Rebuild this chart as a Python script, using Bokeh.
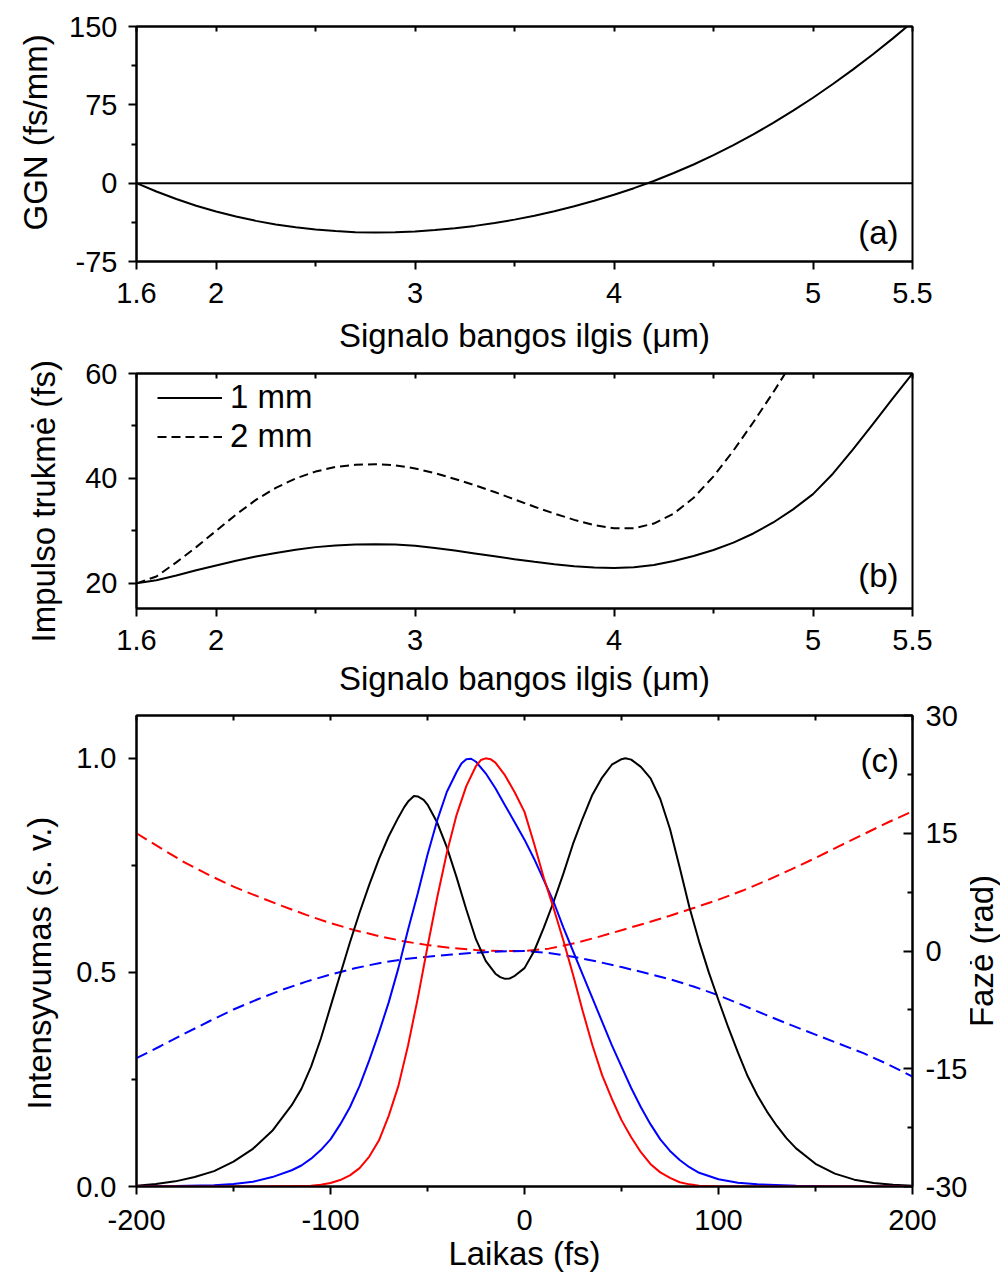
from bokeh.plotting import figure
from bokeh.models import (Range1d, LinearAxis, FixedTicker, NumeralTickFormatter, Span, Label,
                          Title, CustomJSTickFormatter)
from bokeh.layouts import column, row
from bokeh.embed import file_html
from bokeh.resources import INLINE

FONT = "Liberation Sans"
TICK_FS = "29px"
TITLE_FS = "33px"

# ---------------- (a) group-velocity mismatch ----------------
wavelength_a = [1.6, 1.7, 1.8, 1.9, 2.0, 2.1, 2.2, 2.3, 2.4, 2.5, 2.6, 2.7, 2.8, 2.9,
                3.0, 3.1, 3.2, 3.3, 3.4, 3.5, 3.6, 3.7, 3.8, 3.9, 4.0, 4.1, 4.2, 4.3,
                4.4, 4.5, 4.6, 4.7, 4.8, 4.9, 5.0, 5.1, 5.2, 5.3, 5.4, 5.5]
ggn = [0, -8.0, -15.2, -21.6, -27.2, -32.0, -36.1, -39.5, -42.2, -44.3, -45.9, -46.9,
       -47.2, -47.0, -46.2, -44.9, -43.2, -40.9, -38.2, -34.9, -31.1, -26.9, -22.1,
       -16.8, -11.1, -4.8, 2.1, 9.7, 17.9, 26.8, 36.4, 46.7, 57.7, 69.4, 81.8, 94.9,
       108.7, 123.2, 138.4, 154.3]

# ---------------- (b) pulse duration ----------------
wavelength_b1 = [1.6, 1.7, 1.8, 1.9, 2.0, 2.1, 2.2, 2.3, 2.4, 2.5, 2.6, 2.7, 2.8, 2.9,
                 3.0, 3.1, 3.2, 3.3, 3.4, 3.5, 3.6, 3.7, 3.8, 3.9, 4.0, 4.1, 4.2, 4.3,
                 4.4, 4.5, 4.6, 4.7, 4.8, 4.9, 5.0, 5.1, 5.2, 5.3, 5.4, 5.5]
duration_1mm = [20.0, 20.6, 21.5, 22.5, 23.4, 24.3, 25.1, 25.8, 26.4, 26.9, 27.2, 27.4,
                27.45, 27.4, 27.15, 26.75, 26.25, 25.7, 25.15, 24.6, 24.1, 23.65, 23.25,
                23.0, 22.9, 23.05, 23.5, 24.25, 25.2, 26.35, 27.75, 29.5, 31.6, 34.1,
                37.0, 40.9, 45.5, 50.3, 55.2, 60.0]
wavelength_b2 = [1.6, 1.7, 1.8, 1.9, 2.0, 2.1, 2.2, 2.3, 2.4, 2.5, 2.6, 2.7, 2.8, 2.9,
                 3.0, 3.1, 3.2, 3.3, 3.4, 3.5, 3.6, 3.7, 3.8, 3.9, 4.0, 4.1, 4.2, 4.3,
                 4.4, 4.5, 4.6, 4.7, 4.8, 4.86]
duration_2mm = [20.0, 21.3, 24.0, 26.9, 30.0, 33.1, 35.9, 38.2, 40.0, 41.3, 42.2, 42.6,
                42.7, 42.5, 41.9, 41.0, 39.9, 38.7, 37.4, 36.0, 34.6, 33.3, 32.1, 31.1,
                30.5, 30.5, 31.4, 33.3, 36.3, 40.4, 45.3, 50.7, 56.4, 60.0]

# ---------------- (c) temporal intensity and phase ----------------
t_black = [-200, -190, -180, -170, -160, -150, -140, -130, -120, -115, -110, -105, -100,
           -95, -90, -85, -80, -75, -70, -65, -62, -60, -57, -55, -52, -50, -45, -40,
           -35, -30, -25, -20, -15, -12.5, -10, -7.5, -5, 0, 5, 10, 15, 20, 25, 30, 35,
           40, 45, 50, 52, 55, 60, 65, 70, 75, 80, 85, 90, 95, 100, 105, 110, 115, 120,
           125, 130, 135, 140, 150, 160, 170, 180, 190, 200]
i_black = [0.002, 0.006, 0.012, 0.022, 0.036, 0.058, 0.088, 0.13, 0.19, 0.228, 0.28,
           0.345, 0.42, 0.495, 0.57, 0.64, 0.705, 0.765, 0.818, 0.862, 0.886, 0.899,
           0.912, 0.911, 0.903, 0.892, 0.85, 0.792, 0.722, 0.647, 0.577, 0.527, 0.497,
           0.489, 0.485, 0.486, 0.492, 0.51, 0.55, 0.605, 0.665, 0.73, 0.80, 0.86,
           0.915, 0.955, 0.985, 0.998, 1.0, 0.997, 0.98, 0.953, 0.905, 0.835, 0.745,
           0.652, 0.572, 0.50, 0.435, 0.372, 0.313, 0.258, 0.213, 0.175, 0.142, 0.113,
           0.089, 0.053, 0.03, 0.016, 0.008, 0.004, 0.002]

t_blue = [-200, -180, -160, -150, -140, -130, -120, -115, -110, -105, -100, -95, -90,
          -85, -80, -75, -70, -65, -60, -55, -50, -45, -40, -35, -32.5, -30, -27.5, -25,
          -20, -15, -10, -5, 0, 5, 10, 15, 20, 25, 30, 35, 40, 45, 50, 55, 60, 65, 70,
          75, 80, 85, 90, 100, 110, 120, 140, 160, 200]
i_blue = [0.0, 0.001, 0.003, 0.006, 0.011, 0.022, 0.038, 0.049, 0.065, 0.085, 0.11,
          0.145, 0.185, 0.235, 0.295, 0.36, 0.43, 0.51, 0.60, 0.685, 0.775, 0.855, 0.922,
          0.968, 0.988, 0.998, 0.999, 0.992, 0.965, 0.93, 0.89, 0.85, 0.81, 0.765, 0.715,
          0.665, 0.605, 0.55, 0.495, 0.44, 0.385, 0.33, 0.28, 0.23, 0.185, 0.145, 0.11,
          0.083, 0.062, 0.045, 0.032, 0.017, 0.009, 0.005, 0.002, 0.0, 0.0]

t_red = [-200, -140, -120, -110, -105, -100, -95, -90, -85, -80, -75, -70, -65, -60,
         -55, -50, -45, -40, -35, -30, -25, -22.5, -20, -17.5, -15, -10, -5, 0, 5, 10,
         15, 20, 25, 30, 35, 40, 45, 50, 55, 60, 65, 70, 75, 80, 85, 90, 100, 200]
i_red = [0.0, 0.0, 0.001, 0.002, 0.004, 0.008, 0.015, 0.026, 0.043, 0.07, 0.108, 0.165,
         0.235, 0.33, 0.44, 0.56, 0.675, 0.78, 0.868, 0.935, 0.982, 0.996, 1.0, 0.998,
         0.99, 0.96, 0.92, 0.875, 0.80, 0.72, 0.65, 0.575, 0.495, 0.41, 0.33, 0.26,
         0.205, 0.155, 0.115, 0.08, 0.052, 0.033, 0.02, 0.01, 0.005, 0.002, 0.0, 0.0]

t_phase = [-200, -187.5, -175, -162.5, -150, -137.5, -125, -112.5, -100, -87.5, -75,
           -62.5, -50, -37.5, -25, -12.5, 0, 12.5, 25, 37.5, 50, 62.5, 75, 87.5, 100,
           112.5, 125, 137.5, 150, 162.5, 175, 187.5, 200]
phase_red = [15.0, 13.1, 11.25, 9.65, 8.2, 6.95, 5.75, 4.6, 3.55, 2.65, 1.9, 1.25, 0.75,
             0.38, 0.12, 0.0, 0.0, 0.3, 0.95, 1.75, 2.65, 3.55, 4.5, 5.5, 6.55, 7.7, 9.0,
             10.4, 11.85, 13.4, 14.9, 16.4, 17.8]
phase_blue = [-13.65, -12.1, -10.5, -8.95, -7.45, -6.15, -4.95, -3.9, -3.0, -2.2, -1.55,
              -1.05, -0.72, -0.45, -0.22, -0.05, 0.0, -0.25, -0.72, -1.35, -2.05, -2.8,
              -3.6, -4.55, -5.65, -6.9, -8.2, -9.45, -10.65, -11.85, -13.05, -14.45,
              -16.0]

# tick definitions
wl_ticks = [1.6, 2, 3, 4, 5, 5.5]
wl_minor = [2.5, 3.5, 4.5]
ggn_ticks = [-75, 0, 75, 150]
ggn_minor = [-37.5, 37.5, 112.5]
dur_ticks = [20, 40, 60]
dur_minor = [30, 50]
t_ticks = [-200, -100, 0, 100, 200]
t_minor = [-150, -50, 50, 150]
int_ticks = [0.0, 0.5, 1.0]
int_minor = [0.25, 0.75]
ph_ticks = [-30, -15, 0, 15, 30]
ph_minor = [-22.5, -7.5, 7.5, 22.5]


def base_fig(frame_h, xr, yr, top, bottom, right=80):
    p = figure(frame_width=776, frame_height=frame_h, x_range=xr, y_range=yr,
               output_backend="svg", toolbar_location=None,
               min_border_left=136, min_border_right=right,
               min_border_top=top, min_border_bottom=bottom)
    p.xgrid.visible = False
    p.ygrid.visible = False
    p.outline_line_color = "black"
    p.outline_line_width = 2
    p.outline_line_alpha = 1.0
    p.background_fill_color = "white"
    p.border_fill_color = "white"
    return p


def style_axis(ax, ticks, minor, fmt, label, tick_out=8, tick_in=0, minor_out=5,
               minor_in=0, lab_standoff=10, title_standoff=6, show_labels=True):
    ax.ticker = FixedTicker(ticks=ticks, minor_ticks=minor)
    if show_labels:
        ax.formatter = NumeralTickFormatter(format=fmt)
    else:
        ax.formatter = CustomJSTickFormatter(code="return ''")
    ax.axis_label = label
    ax.axis_label_text_font = FONT
    ax.axis_label_text_font_size = TITLE_FS
    ax.axis_label_text_font_style = "normal"
    ax.axis_label_text_color = "black"
    ax.major_label_text_font = FONT
    ax.major_label_text_font_size = TICK_FS
    ax.major_label_text_color = "black"
    ax.axis_line_color = "black"
    ax.axis_line_width = 2
    ax.major_tick_line_color = "black"
    ax.minor_tick_line_color = "black"
    ax.major_tick_line_width = 2
    ax.minor_tick_line_width = 2
    ax.major_tick_out = tick_out
    ax.major_tick_in = tick_in
    ax.minor_tick_out = minor_out
    ax.minor_tick_in = minor_in
    ax.major_label_standoff = lab_standoff if show_labels else 0
    ax.axis_label_standoff = title_standoff


def add_top(p, ticks, minor):
    top = LinearAxis()
    style_axis(top, ticks, minor, "0", None, tick_out=0, tick_in=5, minor_out=0,
               minor_in=5, show_labels=False)
    p.add_layout(top, "above")


def panel_label(p, x, y, text):
    p.add_layout(Label(x=x, y=y, text=text, text_align="right", text_baseline="middle",
                       text_font=FONT, text_font_size=TITLE_FS, text_color="black"))


def side_title(p, text, align, offset, standoff):
    # a title in the left panel reads bottom-to-top; align="left" starts it at the
    # frame bottom and offset moves it up
    p.add_layout(Title(text=text, align=align, offset=offset, standoff=standoff,
                       text_font=FONT, text_font_size=TITLE_FS,
                       text_font_style="normal", text_color="black"), "left")


# ---------------- panel (a) ----------------
pa = base_fig(235, Range1d(1.6, 5.5), Range1d(-75, 150), 26, 97)
style_axis(pa.below[0], wl_ticks, wl_minor, "0.[0]", "Signalo bangos ilgis (μm)",
           lab_standoff=13, title_standoff=11)
style_axis(pa.left[0], ggn_ticks, ggn_minor, "0", None, lab_standoff=11)
add_top(pa, wl_ticks, wl_minor)
side_title(pa, "GGN (fs/mm)", "left", 31, 25)
pa.add_layout(Span(location=0, dimension="width", line_color="black", line_width=2))
pa.line(wavelength_a, ggn, line_color="black", line_width=2)
panel_label(pa, 5.43, -47, "(a)")

# ---------------- panel (b) ----------------
pb = base_fig(235, Range1d(1.6, 5.5), Range1d(15.2, 60), 15, 93)
style_axis(pb.below[0], wl_ticks, wl_minor, "0.[0]", "Signalo bangos ilgis (μm)",
           lab_standoff=13, title_standoff=7)
style_axis(pb.left[0], dur_ticks, dur_minor, "0", None, lab_standoff=11)
add_top(pb, wl_ticks, wl_minor)
side_title(pb, "Impulso trukmė (fs)", "left", -34, 41)
pb.line(wavelength_b1, duration_1mm, line_color="black", line_width=2, legend_label="1 mm")
pb.line(wavelength_b2, duration_2mm, line_color="black", line_width=2, line_dash="9 5",
        legend_label="2 mm")
lg = pb.legend[0]
lg.location = (21, 153)
lg.margin = 0
lg.padding = 0
lg.spacing = 1
lg.glyph_width = 65
lg.glyph_height = 37
lg.label_height = 37
lg.label_standoff = 8
lg.label_text_font = FONT
lg.label_text_font_size = TITLE_FS
lg.label_text_color = "black"
lg.background_fill_alpha = 0
lg.border_line_alpha = 0
panel_label(pb, 5.43, 21.5, "(b)")

# ---------------- panel (c) ----------------
pc = base_fig(471, Range1d(-200, 200), Range1d(0, 1.1), 14, 90, right=55)
pc.extra_y_ranges = {"phase": Range1d(-30, 30)}
style_axis(pc.below[0], t_ticks, t_minor, "0", "Laikas (fs)",
           lab_standoff=15, title_standoff=2)
style_axis(pc.left[0], int_ticks, int_minor, "0.0", None, lab_standoff=12)
add_top(pc, t_ticks, t_minor)
side_title(pc, "Intensyvumas (s. v.)", "left", 77, 32)
right_ax = LinearAxis(y_range_name="phase")
style_axis(right_ax, ph_ticks, ph_minor, "0", None, tick_out=0, tick_in=9,
           minor_out=0, minor_in=5, lab_standoff=13, title_standoff=0)
pc.add_layout(right_ax, "right")

pc.line(t_phase, phase_red, y_range_name="phase", line_color="#ff0000", line_width=2,
        line_dash="12 6")
pc.line(t_phase, phase_blue, y_range_name="phase", line_color="#0000ff", line_width=2,
        line_dash="12 6")
pc.line(t_black, i_black, line_color="black", line_width=2)
pc.line(t_blue, i_blue, line_color="#0000ff", line_width=2)
pc.line(t_red, i_red, line_color="#ff0000", line_width=2)
panel_label(pc, 193, 0.994, "(c)")

# narrow companion canvas that carries the right-hand (phase) axis title,
# so that it reads bottom-to-top like the reference
pz = figure(frame_width=1, frame_height=471, x_axis_type=None, y_axis_type=None,
            output_backend="svg", toolbar_location=None,
            min_border_left=0, min_border_right=9, min_border_top=14, min_border_bottom=90)
pz.outline_line_color = None
pz.background_fill_color = "white"
pz.border_fill_color = "white"
side_title(pz, "Fazė (rad)", "center", 0, -19)

layout = column(pa, pb, row(pc, pz, spacing=0), spacing=0)
open("out.html", "w").write(file_html(layout, INLINE))
